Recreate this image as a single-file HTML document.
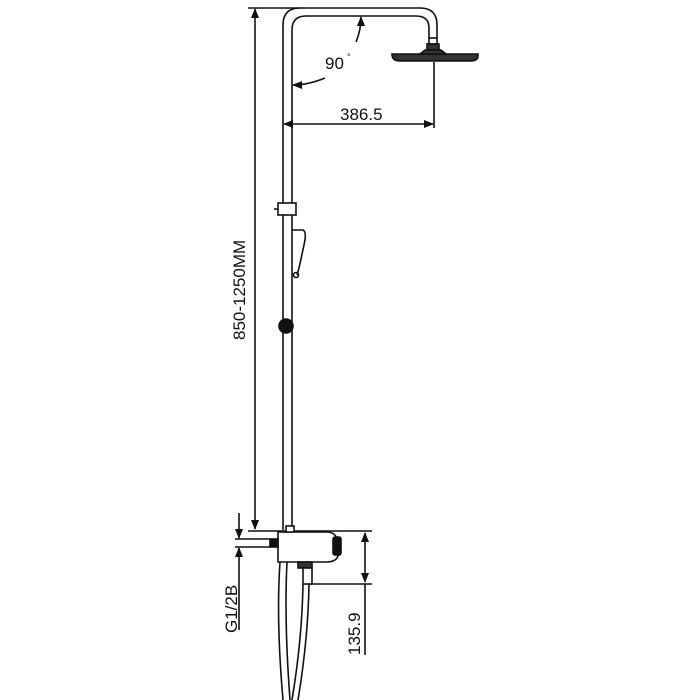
<!DOCTYPE html>
<html><head><style>body{margin:0;background:#fff}svg{display:block}</style></head><body>
<svg width="700" height="700" viewBox="0 0 700 700" xmlns="http://www.w3.org/2000/svg" font-family="Liberation Sans, sans-serif">
<defs><marker id="a" markerWidth="10" markerHeight="8" refX="9" refY="4" orient="auto-start-reverse" markerUnits="userSpaceOnUse"><path d="M0,0 L10,4 L0,8 z" fill="#111"/></marker></defs>
<g stroke="#111" fill="none" stroke-width="1.6">
<path d="M283,530 L283,25 Q283,8 300,8 L420,8 Q437,8 437,25 L437,38"/>
<path d="M292,530 L292,30 Q292,16 306,16 L416,16 Q429,16 429,28 L429,38"/>
<rect x="429" y="38" width="8" height="6" fill="#fff"/>
<rect x="427" y="44" width="12" height="6" fill="#333"/>
<path d="M392,54 Q392,61 400,61 L470,61 Q478,61 478,56 L478,54 Z" fill="#333"/>
<path d="M425,50 L441,50 L446,54 L420,54 Z" fill="#333"/>
<line x1="248" y1="8" x2="300" y2="8"/>
<line x1="255" y1="9" x2="255" y2="529" marker-start="url(#a)" marker-end="url(#a)"/>
<path d="M356,42 Q361,30 361,17" marker-end="url(#a)"/>
<path d="M325,78 Q308,85 293,85" marker-end="url(#a)"/>
<line x1="434" y1="62" x2="434" y2="128"/>
<line x1="284" y1="124" x2="433" y2="124" marker-start="url(#a)" marker-end="url(#a)"/>
<rect x="278" y="203" width="18" height="12" fill="#fff"/>
<line x1="274" y1="209" x2="278" y2="209"/>
<path d="M292,230 L303,230 Q307,232 304,245 L299,268 L297,275" />
<circle cx="296" cy="275" r="2.5"/>
<circle cx="286" cy="326" r="7" fill="#111"/>
<line x1="248" y1="531" x2="372" y2="531"/>
<path d="M278,532 L328,532 Q338,533 338,545 L338,556 Q336,562 326,562 L278,562 Z" fill="#fff"/>
<rect x="333" y="537" width="8" height="18" rx="2" fill="#111"/>
<rect x="286" y="526" width="8" height="6" fill="#fff"/>
<line x1="235" y1="539" x2="270" y2="539"/>
<line x1="235" y1="547" x2="270" y2="547"/>
<rect x="270" y="539" width="8" height="8" fill="#111"/>
<line x1="239" y1="513" x2="239" y2="538" marker-end="url(#a)"/>
<line x1="239" y1="566" x2="239" y2="548" marker-end="url(#a)"/>
<line x1="239" y1="566" x2="239" y2="630"/>
<line x1="365" y1="533" x2="365" y2="582" marker-start="url(#a)" marker-end="url(#a)"/>
<line x1="310" y1="584" x2="372" y2="584"/>
<line x1="365" y1="584" x2="365" y2="655"/>
<rect x="298" y="562" width="14" height="6" fill="#333"/>
<rect x="303" y="568" width="9" height="16" fill="#fff"/>
<path d="M280,562 Q276,620 283,700"/>
<path d="M287,562 Q284,620 290,700"/>
<path d="M303,584 Q302,640 292,700"/>
<path d="M309,584 Q308,640 298,700"/>
</g>
<g fill="#111" font-size="17">
<text x="325" y="69">90</text><text x="347" y="60" font-size="9">°</text>
<text x="340" y="120">386.5</text>
<text transform="translate(245,340) rotate(-90)">850-1250MM</text>
<text transform="translate(237,633) rotate(-90)">G1/2B</text>
<text transform="translate(360,655) rotate(-90)">135.9</text>
</g>
</svg>
</body></html>
